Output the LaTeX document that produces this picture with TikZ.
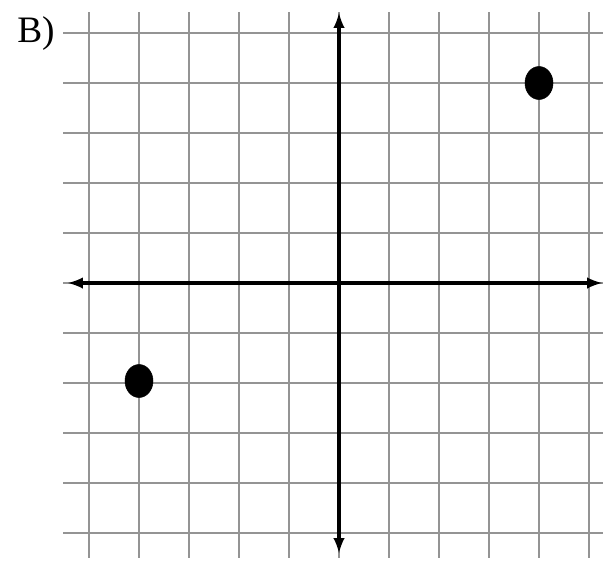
\documentclass[tikz,border=0pt]{standalone}
\usepackage{fontspec}
\setmainfont{Liberation Serif}
\usepackage{tikz}
\usetikzlibrary{arrows}
\usetikzlibrary{positioning}
\begin{document}
\begin{tikzpicture}[x=0.75pt,y=0.75pt,yscale=-1,xscale=1]
  \useasboundingbox (0,0) rectangle (603,561);
  \tikzstyle{gridline} = [line width=1.8pt,color=black!42]
  \tikzstyle{axis} = [line width=2.8pt,-latex]
  %Draw the grid
  \foreach \k in {0,...,10} {
    \draw[gridline] (89+50*\k,12) -- (89+50*\k,558);
    \draw[gridline] (63,33+50*\k) -- (603,33+50*\k);
  }
  %Draw the axes
  \coordinate (origin) at (339,283);
  \coordinate (ytop) at (339,13);
  \coordinate (ybot) at (339,553);
  \coordinate (xleft) at (68,283);
  \coordinate (xright) at (602,283);
  \draw[axis] (origin) -- (ytop);
  \draw[axis] (origin) -- (ybot);
  \draw[axis] (origin) -- (xleft);
  \draw[axis] (origin) -- (xright);
  % Label the part
  \draw (17,42) node [anchor=base west][inner sep=0pt] {\fontsize{28}{28}\selectfont B)};
  % Draw the points
  \filldraw [black] (539,83) ellipse (14 and 16.5);
  % Draw the points
  \filldraw [black] (139,381) ellipse (14 and 16.5);
\end{tikzpicture}
\end{document}
